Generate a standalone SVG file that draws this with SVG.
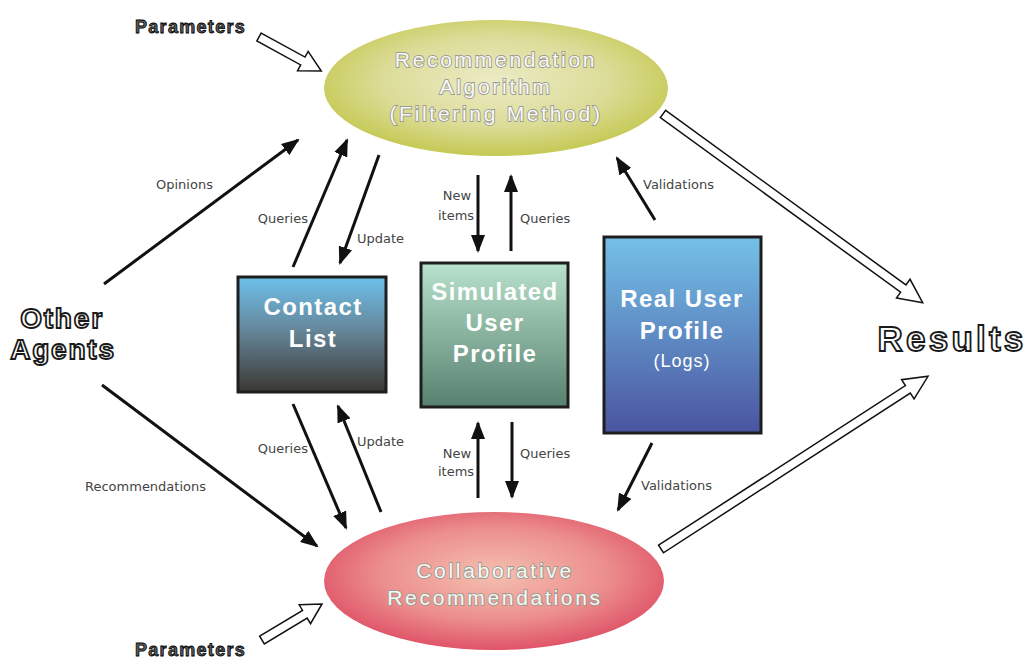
<svg xmlns="http://www.w3.org/2000/svg" width="1030" height="658" viewBox="0 0 1030 658">
  <style>
    .lbl { font-family: "DejaVu Sans", "Liberation Sans", sans-serif; font-size: 13px; fill: #444; }
    .ell { font-family: "Liberation Sans", Arial, sans-serif; font-size: 21px; letter-spacing: 2.7px; fill: #f8f8f4; stroke: #9c9c92; stroke-width: 1.8; paint-order: stroke; text-anchor: middle; }
    .box { font-family: "Liberation Sans", Arial, sans-serif; font-weight: bold; font-size: 24px; letter-spacing: 1.4px; fill: #ffffff; text-anchor: middle; }
    .big { font-family: "Liberation Sans", Arial, sans-serif; font-weight: bold; fill: #ffffff; stroke: #1a1a1a; stroke-width: 1.8; text-anchor: middle; }
    .par { font-family: "Liberation Sans", Arial, sans-serif; font-weight: bold; font-size: 18px; letter-spacing: 1.3px; fill: #5c5c5c; stroke: #000; stroke-width: 0.8; }
    .arr { stroke: #111; stroke-width: 3; fill: none; marker-end: url(#head); }
    .hollow { fill: #ffffff; stroke: #111; stroke-width: 1.5; stroke-linejoin: miter; }
    .frame { stroke: #1e1e1e; stroke-width: 3; }
  </style>
  <defs>
    <marker id="head" markerUnits="userSpaceOnUse" markerWidth="18" markerHeight="14" refX="16" refY="7" orient="auto">
      <path d="M0,0 L18,7 L0,14 Z" fill="#111"/>
    </marker>
    <radialGradient id="gTop" cx="0.5" cy="0.45" r="0.55">
      <stop offset="0" stop-color="#ecebc6"/>
      <stop offset="0.6" stop-color="#dcdc98"/>
      <stop offset="1" stop-color="#c5c953"/>
    </radialGradient>
    <radialGradient id="gBot" cx="0.5" cy="0.45" r="0.55">
      <stop offset="0" stop-color="#f5c0b0"/>
      <stop offset="0.6" stop-color="#ec8f8e"/>
      <stop offset="1" stop-color="#df5468"/>
    </radialGradient>
    <linearGradient id="gContact" x1="0" y1="0" x2="0" y2="1">
      <stop offset="0" stop-color="#6cc0ec"/>
      <stop offset="0.45" stop-color="#66889c"/>
      <stop offset="1" stop-color="#3b3833"/>
    </linearGradient>
    <linearGradient id="gSim" x1="0" y1="0" x2="0" y2="1">
      <stop offset="0" stop-color="#b8e2cc"/>
      <stop offset="1" stop-color="#57806f"/>
    </linearGradient>
    <linearGradient id="gReal" x1="0" y1="0" x2="0" y2="1">
      <stop offset="0" stop-color="#74c2e8"/>
      <stop offset="1" stop-color="#4a54a0"/>
    </linearGradient>
  </defs>

  <rect width="1030" height="658" fill="#ffffff"/>

  <!-- connectors -->
  <g id="connectors">
    <!-- parameter inputs -->
    <polygon class="hollow" transform="translate(259,37) rotate(28.7)" points="0,-4.5 50,-4.5 50,-11 71,0 50,11 50,4.5 0,4.5"/>
    <polygon class="hollow" transform="translate(262,640) rotate(-31)" points="0,-4.5 50,-4.5 50,-11 70,0 50,11 50,4.5 0,4.5"/>
    <!-- outputs to results -->
    <polygon class="hollow" transform="translate(663,114) rotate(36)" points="0,-4.5 297,-4.5 297,-11.5 321,0 297,11.5 297,4.5 0,4.5"/>
    <polygon class="hollow" transform="translate(661,549) rotate(-32.9)" points="0,-4.5 294,-4.5 294,-11.5 318,0 294,11.5 294,4.5 0,4.5"/>

    <!-- other agents -->
    <line class="arr" x1="104" y1="284" x2="298" y2="140"/>
    <text class="lbl" x="156" y="189">Opinions</text>
    <line class="arr" x1="102" y1="385" x2="317" y2="546"/>
    <text class="lbl" x="85" y="491">Recommendations</text>

    <!-- contact list to top -->
    <line class="arr" x1="293" y1="267" x2="347" y2="140"/>
    <text class="lbl" x="308" y="223" text-anchor="end">Queries</text>
    <line class="arr" x1="379" y1="155" x2="340" y2="263"/>
    <text class="lbl" x="357" y="243">Update</text>

    <!-- contact list to bottom -->
    <line class="arr" x1="293" y1="404" x2="346" y2="528"/>
    <text class="lbl" x="308" y="453" text-anchor="end">Queries</text>
    <line class="arr" x1="381" y1="512" x2="338" y2="406"/>
    <text class="lbl" x="357" y="446">Update</text>

    <!-- simulated profile to top -->
    <line class="arr" x1="478" y1="175" x2="478" y2="251"/>
    <text class="lbl" x="457" y="200" text-anchor="middle">New</text>
    <text class="lbl" x="456" y="220" text-anchor="middle">items</text>
    <line class="arr" x1="511" y1="251" x2="511" y2="176"/>
    <text class="lbl" x="520" y="223">Queries</text>

    <!-- simulated profile to bottom -->
    <line class="arr" x1="478" y1="498" x2="478" y2="423"/>
    <text class="lbl" x="457" y="458" text-anchor="middle">New</text>
    <text class="lbl" x="456" y="476" text-anchor="middle">items</text>
    <line class="arr" x1="512" y1="422" x2="512" y2="497"/>
    <text class="lbl" x="520" y="458">Queries</text>

    <!-- real profile validations -->
    <line class="arr" x1="655" y1="220" x2="617" y2="158"/>
    <text class="lbl" x="643" y="189">Validations</text>
    <line class="arr" x1="652" y1="443" x2="618" y2="510"/>
    <text class="lbl" x="641" y="490">Validations</text>
  </g>

  <!-- recommendation algorithm -->
  <g id="algorithm">
    <ellipse cx="496" cy="88" rx="172" ry="68" fill="url(#gTop)"/>
    <text class="ell" x="496" y="67">Recommendation</text>
    <text class="ell" x="496" y="94">Algorithm</text>
    <text class="ell" x="496" y="121">(Filtering Method)</text>
  </g>

  <!-- collaborative recommendations -->
  <g id="collaborative">
    <ellipse cx="494" cy="581" rx="170" ry="69" fill="url(#gBot)"/>
    <text class="ell" x="495" y="578">Collaborative</text>
    <text class="ell" x="495" y="605">Recommendations</text>
  </g>

  <!-- contact list -->
  <g id="contact-list">
    <rect class="frame" x="238" y="277" width="148" height="115" fill="url(#gContact)"/>
    <text class="box" x="313" y="315">Contact</text>
    <text class="box" x="313" y="347">List</text>
  </g>

  <!-- simulated user profile -->
  <g id="simulated-profile">
    <rect class="frame" x="421" y="263" width="147" height="144" fill="url(#gSim)"/>
    <text class="box" x="495" y="300">Simulated</text>
    <text class="box" x="495" y="331">User</text>
    <text class="box" x="495" y="362">Profile</text>
  </g>

  <!-- real user profile -->
  <g id="real-profile">
    <rect class="frame" x="604" y="237" width="157" height="196" fill="url(#gReal)"/>
    <text class="box" x="682" y="307">Real User</text>
    <text class="box" x="682" y="339">Profile</text>
    <text class="box" x="682" y="367" style="font-size:18px;font-weight:normal;letter-spacing:1px">(Logs)</text>
  </g>

  <!-- other agents -->
  <g id="other-agents">
    <text class="big" x="62" y="328" style="font-size:28px;letter-spacing:1.8px">Other</text>
    <text class="big" x="63" y="359" style="font-size:28px;letter-spacing:1.8px">Agents</text>
  </g>

  <!-- results -->
  <g id="results">
    <text class="big" x="952" y="351" style="font-size:35px;letter-spacing:3.2px">Results</text>
  </g>

  <!-- parameters -->
  <g id="parameters-top">
    <text class="par" x="135" y="33">Parameters</text>
  </g>
  <g id="parameters-bottom">
    <text class="par" x="135" y="656">Parameters</text>
  </g>
</svg>
